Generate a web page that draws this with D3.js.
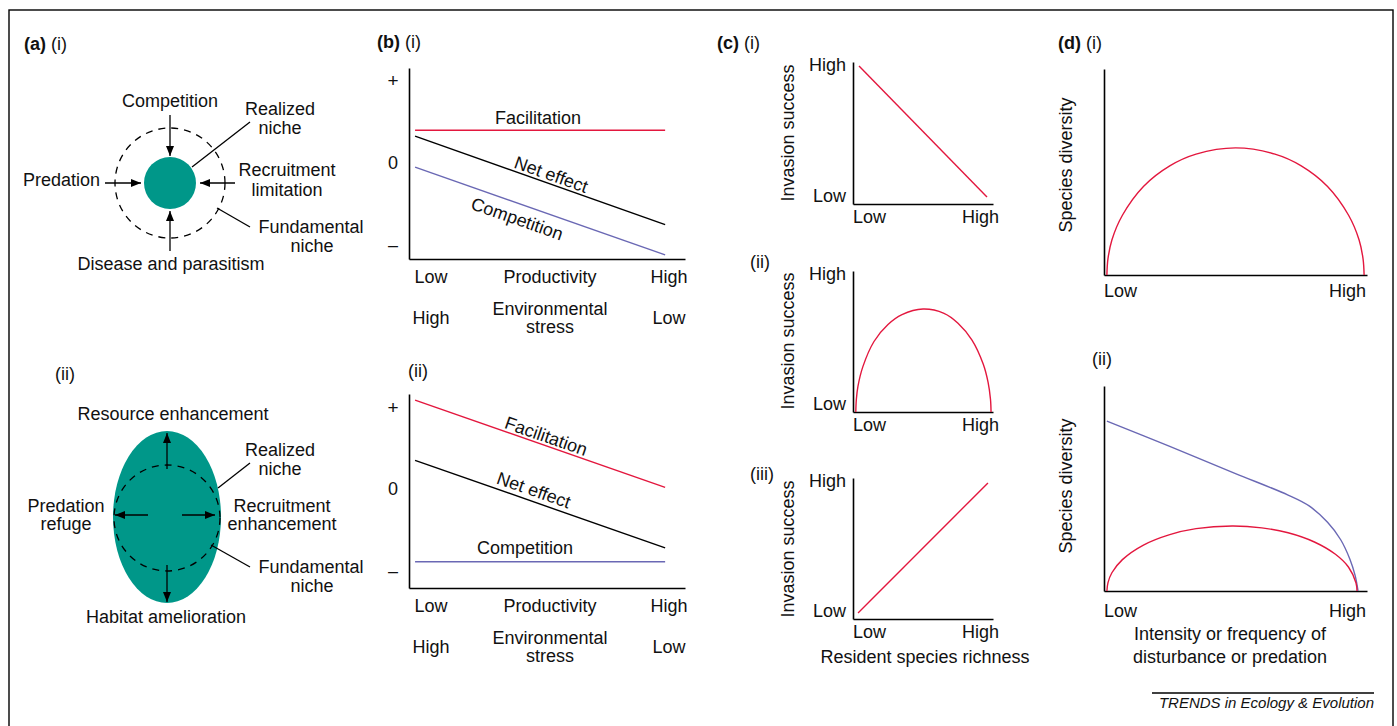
<!DOCTYPE html>
<meta charset="utf-8">
<style>

body {
  margin: 0;
  background: #fff;
}

text {
  font: 18px "Liberation Sans", Arial, sans-serif;
  fill: #111;
}

.tag {
  font-weight: bold;
}

.axis path {
  stroke: #000;
  stroke-width: 1.6;
}

.axis text {
  font: 18px "Liberation Sans", Arial, sans-serif;
  fill: #111;
}

.curve {
  fill: none;
  stroke-width: 1.4;
}

</style>
<svg width="1397" height="726"></svg>
<script src="https://d3js.org/d3.v7.min.js"></script>
<script>

// (a) niche diagrams: labels only
let nicheLimits = ['Competition', 'Predation', 'Recruitment', 'limitation', 'Disease and parasitism'];
let nicheBoosts = ['Resource enhancement', 'Predation', 'refuge', 'Recruitment', 'enhancement', 'Habitat amelioration'];
let nicheNames = ['Realized', 'niche', 'Fundamental', 'niche'];

// (b) interaction strength along a productivity gradient
let bTicks = [1, 0, -1];
let bTickLabels = ['+', '0', '–'];
let bRow1 = ['Low', 'Productivity', 'High'];
let bRow2 = ['High', 'Environmental', 'Low'];
let b1Facilitation = [[0.022, 0.39], [0.928, 0.39]];
let b1Net = [[0.022, 0.32], [0.928, -0.76]];
let b1Competition = [[0.022, -0.06], [0.928, -1.13]];
let b2Facilitation = [[0.022, 1.085], [0.928, 0.02]];
let b2Net = [[0.022, 0.35], [0.928, -0.72]];
let b2Competition = [[0.022, -0.89], [0.928, -0.89]];

// (c) invasion success vs resident richness
let lowHigh = ['Low', 'High'];
let c1Line = [[0.043, 0.972], [0.957, 0.049]];
let c2Hump = [[0.02, 0], [0.024, 0.09], [0.035, 0.18], [0.07, 0.32], [0.15, 0.5], [0.25, 0.62], [0.35, 0.69],
  [0.5, 0.73], [0.65, 0.7], [0.75, 0.63], [0.85, 0.51], [0.93, 0.34], [0.965, 0.21], [0.982, 0.09], [0.986, 0]];
let c3Line = [[0.036, 0.043], [0.964, 0.965]];

// (d) species diversity vs disturbance
let d1Hump = [[0.011, 0], [0.015, 0.078], [0.03, 0.17], [0.07, 0.29], [0.15, 0.43], [0.25, 0.53], [0.35, 0.587],
  [0.5, 0.617], [0.65, 0.587], [0.75, 0.53], [0.85, 0.43], [0.93, 0.29], [0.97, 0.17], [0.985, 0.078], [0.989, 0]];
let d2Red = [[0.011, 0], [0.015, 0.04], [0.03, 0.089], [0.07, 0.153], [0.15, 0.224], [0.25, 0.275], [0.35, 0.304],
  [0.487, 0.317], [0.6, 0.308], [0.7, 0.284], [0.8, 0.239], [0.88, 0.179], [0.93, 0.116], [0.958, 0.04], [0.962, 0]];
let d2Blue = [[0.011, 0.829], [0.25, 0.705], [0.5, 0.573], [0.7, 0.468], [0.78, 0.415], [0.85, 0.335],
  [0.9, 0.25], [0.935, 0.155], [0.955, 0.075], [0.966, 0]];

let red = '#e3173e';
let blue = '#6a68b4';
let teal = '#009789';

let svg = d3.select('svg');

svg.append('defs').append('marker')
    .attr('id', 'head')
    .attr('markerUnits', 'userSpaceOnUse')
    .attr('markerWidth', 11).attr('markerHeight', 8)
    .attr('refX', 10).attr('refY', 4)
    .attr('orient', 'auto')
  .append('path')
    .attr('d', 'M0,0L10,4L0,8Z')
    .attr('fill', '#000');

// outer frame
svg.append('rect')
    .attr('x', 9).attr('y', 10)
    .attr('width', 1384).attr('height', 740)
    .attr('fill', 'none').attr('stroke', '#000').attr('stroke-width', 1.4);

let tag = (x, y, letter, roman) => {
  let t = svg.append('text').attr('x', x).attr('y', y);
  if (letter) t.append('tspan').attr('class', 'tag').text(letter + ' ');
  t.append('tspan').text(roman);
};

let label = (x, y, s, anchor) => svg.append('text')
    .attr('x', x).attr('y', y)
    .attr('text-anchor', anchor || 'middle')
    .text(s);

let seg = (x1, y1, x2, y2, arrow) => {
  let l = svg.append('line')
      .attr('x1', x1).attr('y1', y1).attr('x2', x2).attr('y2', y2)
      .attr('stroke', '#000').attr('stroke-width', 1.3);
  if (arrow) l.attr('marker-end', 'url(#head)');
};

let dashedRing = (cx, cy, r) => svg.append('circle')
    .attr('cx', cx).attr('cy', cy).attr('r', r)
    .attr('fill', 'none').attr('stroke', '#000')
    .attr('stroke-width', 1.3).attr('stroke-dasharray', '7,6');

// ---- (a)(i)
tag(24, 50, '(a)', '(i)');
svg.append('circle').attr('cx', 170).attr('cy', 183).attr('r', 26).attr('fill', teal);
dashedRing(170, 183, 55);
seg(170, 115, 170, 156, true);
seg(105, 183, 141, 183, true);
seg(235, 183, 200, 183, true);
seg(170, 251, 170, 211, true);
seg(192, 167, 250, 122);
seg(217, 208, 250, 227);
label(170, 107, nicheLimits[0]);
label(100, 186, nicheLimits[1], 'end');
label(287, 176, nicheLimits[2]);
label(287, 196, nicheLimits[3]);
label(171, 270, nicheLimits[4]);
label(280, 115, nicheNames[0]);
label(280, 134, nicheNames[1]);
label(311, 233, nicheNames[2]);
label(312, 252, nicheNames[3]);

// ---- (a)(ii)
tag(55, 380, null, '(ii)');
svg.append('ellipse').attr('cx', 167).attr('cy', 517).attr('rx', 54).attr('ry', 86).attr('fill', teal);
dashedRing(167, 518, 53);
seg(167, 469, 167, 433, true);
seg(167, 565, 167, 602, true);
seg(148, 515, 115, 515, true);
seg(182, 515, 215, 515, true);
seg(218, 488, 250, 463);
seg(211, 545, 250, 567);
label(173, 420, nicheBoosts[0]);
label(66, 512, nicheBoosts[1]);
label(66, 530, nicheBoosts[2]);
label(282, 512, nicheBoosts[3]);
label(282, 530, nicheBoosts[4]);
label(166, 623, nicheBoosts[5]);
label(280, 456, nicheNames[0]);
label(280, 475, nicheNames[1]);
label(311, 573, nicheNames[2]);
label(312, 592, nicheNames[3]);

// ---- helpers for graphs
let drawAxes = (x, y) => {
  svg.append('g').attr('class', 'axis')
      .attr('transform', 'translate(' + x.range()[0] + ',0)')
      .call(d3.axisLeft(y).tickValues([]).tickSizeOuter(0));
  svg.append('g').attr('class', 'axis')
      .attr('transform', 'translate(0,' + y.range()[0] + ')')
      .call(d3.axisBottom(x).tickValues([]).tickSizeOuter(0));
};

let plot = (x, y, pts, color, curve) => svg.append('path')
    .datum(pts)
    .attr('class', 'curve')
    .attr('stroke', color)
    .attr('d', d3.line()
      .x(d => x(d[0]))
      .y(d => y(d[1]))
      .curve(curve || d3.curveLinear));

// text sitting along a straight series
let along = (x, y, pts, t, s, off) => {
  let x0 = x(pts[0][0]), y0 = y(pts[0][1]);
  let x1 = x(pts[1][0]), y1 = y(pts[1][1]);
  let a = Math.atan2(y1 - y0, x1 - x0) * 180 / Math.PI;
  svg.append('text')
      .attr('transform', 'translate(' + (x0 + t * (x1 - x0)) + ',' + (y0 + t * (y1 - y0)) + ') rotate(' + a + ')')
      .attr('y', off)
      .attr('text-anchor', 'middle')
      .text(s);
};

// ---- (b)
let bx = d3.scaleLinear().domain([0, 1]).range([409, 685]);
let bLab = d3.scalePoint().domain(bRow1).range([431, 669]);

let bPanel = (y, fac, net, comp, labels) => {
  drawAxes(bx, y);
  svg.append('g')
      .attr('transform', 'translate(393,0)')
    .selectAll('text')
    .data(bTicks)
    .join('text')
      .attr('y', d => y(d))
      .attr('dy', '0.35em')
      .attr('text-anchor', 'middle')
      .style('font-size', d => d === 1 ? '19px' : '18px')
      .text((d, i) => bTickLabels[i]);
  plot(bx, y, fac, red);
  plot(bx, y, net, '#000');
  plot(bx, y, comp, blue);
  labels();
  let base = y.range()[0];
  bRow1.forEach(s => label(bLab(s), base + 24, s));
  bRow2.forEach((s, i) => {
    if (i === 1) {
      label(bLab(bRow1[1]), base + 56, s);
      label(bLab(bRow1[1]), base + 74, 'stress');
    } else {
      label(bLab(bRow1[i]), base + 65, s);
    }
  });
};

tag(377, 48, '(b)', '(i)');
let by1 = d3.scaleLinear().domain([-1.18, 1.15]).range([259, 68]);
bPanel(by1, b1Facilitation, b1Net, b1Competition, () => {
  label(538, 124, 'Facilitation');
  along(bx, by1, b1Net, 0.532, 'Net effect', -3);
  along(bx, by1, b1Competition, 0.428, 'Competition', 21);
});

tag(408, 377, null, '(ii)');
let by2 = d3.scaleLinear().domain([-1.21, 1.16]).range([588, 394]);
bPanel(by2, b2Facilitation, b2Net, b2Competition, () => {
  along(bx, by2, b2Facilitation, 0.512, 'Facilitation', -3);
  along(bx, by2, b2Net, 0.46, 'Net effect', -5);
  label(525, 554, 'Competition');
});

// ---- (c)
let cx = d3.scaleLinear().domain([0, 1]).range([853, 993]);

let cPanel = (top, bottom, pts, curve, titleY) => {
  let y = d3.scaleLinear().domain([0, 1]).range([bottom, top]);
  drawAxes(cx, y);
  plot(cx, y, pts, red, curve);
  label(846, y(1) + 9, lowHigh[1], 'end');
  label(846, y(0) - 2, lowHigh[0], 'end');
  label(cx(0), bottom + 19, lowHigh[0], 'start');
  label(cx(1) + 6, bottom + 19, lowHigh[1], 'end');
  svg.append('text')
      .attr('transform', 'translate(794,' + titleY + ') rotate(-90)')
      .attr('text-anchor', 'middle')
      .text('Invasion success');
};

tag(717, 49, '(c)', '(i)');
cPanel(62, 204, c1Line, null, 133);
tag(750, 268, null, '(ii)');
cPanel(271, 412, c2Hump, d3.curveCatmullRom.alpha(0.5), 341);
tag(750, 480, null, '(iii)');
cPanel(478, 619, c3Line, null, 549);
label(925, 663, 'Resident species richness');

// ---- (d)
let dx = d3.scaleLinear().domain([0, 1]).range([1104, 1367]);

let dPanel = (top, bottom, series, pad, titleY) => {
  let y = d3.scaleLinear().domain([0, 1]).range([bottom, top]);
  drawAxes(dx, y);
  series.forEach(s => plot(dx, y, s[0], s[1], d3.curveCatmullRom.alpha(0.5)));
  label(dx(0), bottom + pad, lowHigh[0], 'start');
  label(dx(1) - 1, bottom + pad, lowHigh[1], 'end');
  svg.append('text')
      .attr('transform', 'translate(1072,' + titleY + ') rotate(-90)')
      .attr('text-anchor', 'middle')
      .text('Species diversity');
};

tag(1058, 49, '(d)', '(i)');
dPanel(69, 275, [[d1Hump, red]], 22, 165);
tag(1092, 365, null, '(ii)');
dPanel(386, 591, [[d2Blue, blue], [d2Red, red]], 26, 486);
label(1230, 640, 'Intensity or frequency of');
label(1230, 663, 'disturbance or predation');

// ---- journal footer
seg(1152, 693, 1374, 693);
svg.append('text')
    .attr('x', 1374).attr('y', 708)
    .attr('text-anchor', 'end')
    .style('font-size', '15px')
    .style('font-style', 'italic')
    .text('TRENDS in Ecology & Evolution');

</script>
